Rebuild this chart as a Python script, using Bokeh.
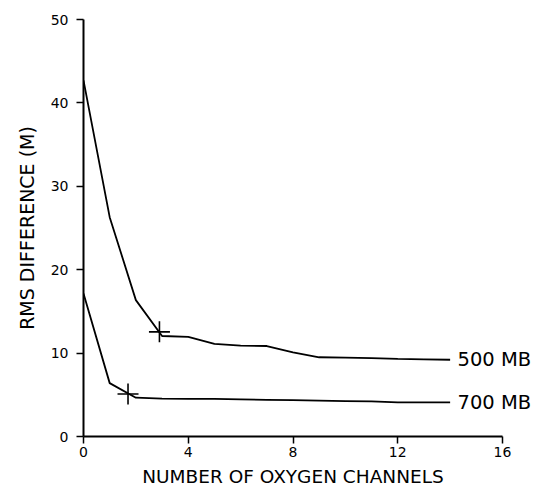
from bokeh.plotting import figure
from bokeh.models import Range1d, FixedTicker, LinearAxis
from bokeh.embed import file_html
from bokeh.resources import INLINE

# ---- data ----
channels = [0, 1, 2, 3, 4, 5, 6, 7, 8, 9, 10, 11, 12, 13, 14]
rms_500 = [42.7, 26.3, 16.35, 12.05, 11.95, 11.1, 10.9, 10.85, 10.1, 9.5, 9.45, 9.4, 9.3, 9.25, 9.2]
rms_700 = [17.15, 6.4, 4.65, 4.55, 4.5, 4.5, 4.45, 4.4, 4.35, 4.3, 4.25, 4.2, 4.1, 4.1, 4.1]
marker_x = [2.9, 1.7]
marker_y = [12.55, 5.1]
series_labels = ["500 MB", "700 MB"]
x_ticks = [0, 4, 8, 12, 16]
y_ticks = [0, 10, 20, 30, 40, 50]
x_title = "NUMBER OF OXYGEN CHANNELS"
y_title = "RMS DIFFERENCE (M)"

FONT = "DejaVu Sans"

p = figure(width=534, height=489, output_backend="svg", toolbar_location=None,
           x_range=Range1d(0, 16), y_range=Range1d(0, 50),
           min_border_left=83, min_border_right=31, min_border_top=19, min_border_bottom=52)
p.outline_line_color = None
p.background_fill_color = "white"
p.border_fill_color = "white"
p.xgrid.grid_line_color = None
p.ygrid.grid_line_color = None

for ax in (p.xaxis[0], p.yaxis[0]):
    ax.axis_line_width = 2
    ax.axis_line_color = "black"
    ax.major_tick_line_color = "black"
    ax.major_tick_line_width = 1.5
    ax.major_tick_out = 7
    ax.major_tick_in = 0
    ax.minor_tick_line_color = None
    ax.major_label_text_font = FONT
    ax.major_label_text_font_size = "14px"
    ax.major_label_text_color = "black"
    ax.axis_label_text_font = FONT
    ax.axis_label_text_font_style = "normal"
    ax.axis_label_text_color = "black"

p.xaxis.ticker = FixedTicker(ticks=x_ticks)
p.yaxis.ticker = FixedTicker(ticks=y_ticks)
p.xaxis.major_label_standoff = 3
p.yaxis.major_label_standoff = 8

p.yaxis.axis_label = y_title
p.yaxis.axis_label_text_font_size = "19px"
p.yaxis.axis_label_standoff = 10

p.xaxis.axis_label = x_title
p.xaxis.axis_label_text_font_size = "18.5px"
p.xaxis.axis_label_standoff = 6

# curves
p.line(channels, rms_500, line_color="black", line_width=1.8)
p.line(channels, rms_700, line_color="black", line_width=1.8)
p.scatter(marker_x, marker_y, marker="cross", size=21, line_color="black", line_width=1.6)

# curve labels at the end of each line (as labels of an invisible right axis)
end_vals = [rms_500[-1], rms_700[-1]]
lab_axis = LinearAxis(ticker=FixedTicker(ticks=end_vals),
                      major_label_overrides={v: s for v, s in zip(end_vals, series_labels)})
lab_axis.axis_line_color = None
lab_axis.major_tick_line_color = None
lab_axis.minor_tick_line_color = None
lab_axis.major_tick_out = 0
lab_axis.major_tick_in = 0
lab_axis.major_label_standoff = -45
lab_axis.major_label_text_font = FONT
lab_axis.major_label_text_font_size = "19.5px"
lab_axis.major_label_text_color = "black"
p.add_layout(lab_axis, "right")

open("out.html", "w").write(file_html(p, INLINE))
